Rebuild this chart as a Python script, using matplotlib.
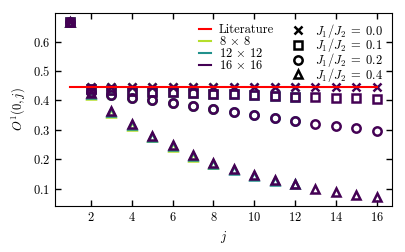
import numpy as np
import matplotlib
matplotlib.use("Agg")
import matplotlib.pyplot as plt
from matplotlib.lines import Line2D

plt.rcParams['font.family'] = 'serif'
plt.rcParams['font.serif'] = ['cmr10']
plt.rcParams['mathtext.fontset'] = 'cm'
plt.rcParams['axes.formatter.use_mathtext'] = True
plt.rcParams['font.size'] = 9

# distances
j16 = np.arange(1, 17)
j12 = np.arange(1, 13)
j8 = np.arange(1, 9)

literature = 0.444

# 16x16 values per J1/J2
v00 = [0.667, 0.447, 0.447, 0.447, 0.447, 0.447, 0.447, 0.447, 0.447,
       0.447, 0.447, 0.447, 0.447, 0.447, 0.447, 0.447]
v01 = [0.667, 0.440, 0.436, 0.432, 0.430, 0.427, 0.424, 0.423, 0.420,
       0.417, 0.415, 0.413, 0.411, 0.409, 0.407, 0.403]
v02 = [0.667, 0.430, 0.418, 0.408, 0.400, 0.390, 0.381, 0.370, 0.360,
       0.351, 0.340, 0.329, 0.320, 0.312, 0.305, 0.297]
v04 = [0.667, 0.424, 0.363, 0.318, 0.280, 0.247, 0.215, 0.188, 0.166,
       0.147, 0.129, 0.116, 0.099, 0.088, 0.077, 0.071]

# smaller lattices (slightly lower correlations)
v04_12 = [0.667, 0.422, 0.361, 0.316, 0.277, 0.244, 0.212, 0.185, 0.163,
          0.144, 0.127, 0.114]
v04_8 = [0.667, 0.419, 0.358, 0.313, 0.274, 0.241, 0.209, 0.183]

sizes = [r'$8\,\times\,8$', r'$12\,\times\,12$', r'$16\,\times\,16$']
colors = ['#b5de2b', '#21918c', '#440154']
ratios = ['0.0', '0.1', '0.2', '0.4']
markers = ['x', 's', 'o', '^']

data = {
    0: [(j8, v00[:8]), (j12, v00[:12]), (j16, v00)],
    1: [(j8, v01[:8]), (j12, v01[:12]), (j16, v01)],
    2: [(j8, v02[:8]), (j12, v02[:12]), (j16, v02)],
    3: [(j8, v04_8), (j12, v04_12), (j16, v04)],
}

fig = plt.figure(figsize=(4.05, 2.52), dpi=100)
ax = fig.add_axes([0.136, 0.183, 0.832, 0.765])

ax.plot([1, 16], [literature, literature], color='red', lw=1.5, zorder=5)

for k in range(4):
    for s in range(3):
        x, y = data[k][s]
        ax.plot(x, y, linestyle='none', marker=markers[k], markersize=6,
                markeredgewidth=1.8, markerfacecolor='none',
                markeredgecolor=colors[s], zorder=3 + s * 0.1)

ax.set_xlabel('$j$')
ax.set_ylabel('$O^1(0, j)$')
ax.set_xticks(range(2, 17, 2))
ax.set_yticks([0.1, 0.2, 0.3, 0.4, 0.5, 0.6])
ax.tick_params(direction='in', top=True, right=True, length=4, width=1)

h1 = [Line2D([], [], color='red', lw=1.5)] + \
     [Line2D([], [], color=c, lw=1.5) for c in colors]
l1 = ['Literature'] + sizes
leg1 = ax.legend(h1, l1, loc='upper left', bbox_to_anchor=(0.40, 0.99),
                 frameon=False, fontsize=9, handlelength=1.0,
                 handletextpad=0.6, labelspacing=-0.08, borderaxespad=0.3)
ax.add_artist(leg1)

h2 = [Line2D([], [], linestyle='none', marker=m, color='black',
             markerfacecolor='none', markersize=6, markeredgewidth=1.8)
      for m in markers]
l2 = [r'$J_1/J_2\;=\;%s$' % r for r in ratios]
ax.legend(h2, l2, loc='upper right', bbox_to_anchor=(1.0, 1.0),
          frameon=False, fontsize=9, handletextpad=0.4, labelspacing=-0.27,
          borderaxespad=0.3)

fig.savefig('out.png', dpi=100)
